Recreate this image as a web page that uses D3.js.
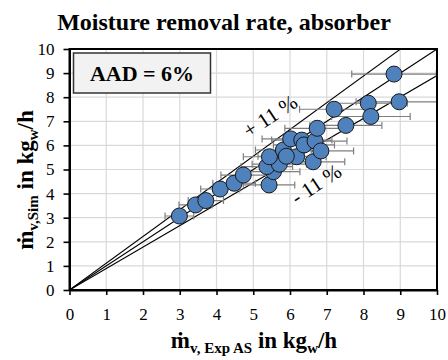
<!DOCTYPE html>
<html><head><meta charset="utf-8">
<script src="https://cdn.jsdelivr.net/npm/d3@7"></script>
<style>
body{margin:0;background:#fff}
svg{display:block}
text{font-family:"Liberation Serif","Times New Roman",serif}
</style></head>
<body><svg id="c" width="448" height="360"></svg>
<script>
// ---- data ----
const expValues = [2.99,3.43,3.71,4.10,4.48,4.73,5.43,5.55,5.37,5.71,5.44,5.82,6.02,6.18,6.32,6.38,6.68,6.63,6.84,6.74,7.20,7.52,8.13,8.20,8.83,8.97,5.90];
const simValues = [3.07,3.53,3.71,4.19,4.43,4.77,4.36,4.91,5.12,5.22,5.53,5.81,6.27,5.53,6.22,6.02,6.18,5.32,5.77,6.71,7.50,6.83,7.75,7.20,8.96,7.81,5.55];
const errValues = [0.39,0.45,0.48,0.53,0.58,0.61,0.70,0.72,0.70,0.74,0.71,0.76,0.78,0.80,0.82,0.83,0.87,0.86,0.89,0.88,0.94,0.98,1.06,1.07,1.15,1.17,0.77];
const xTickValues = [0,1,2,3,4,5,6,7,8,9,10];
const yTickValues = [0,1,2,3,4,5,6,7,8,9,10];
const refFactors = [1.11, 1.0, 0.89];
const titleText = "Moisture removal rate, absorber";
const aadText = "AAD = 6%";
const plusLabel = "+ 11 %";
const minusLabel = "- 11 %";

const svg = d3.select("#c");
const L = 69.5, R = 437, T = 49, B = 290;
const x = d3.scaleLinear().domain([0,10]).range([L,R]);
const y = d3.scaleLinear().domain([0,10]).range([B,T]);
const serif = '"Liberation Serif","Times New Roman",serif';

// title
svg.append("text").attr("x",224).attr("y",30).attr("text-anchor","middle")
  .attr("font-size",24).attr("font-weight","bold").text(titleText);

// grid
const g = svg.append("g");
g.selectAll(".gx").data(xTickValues.slice(1,-1)).join("line")
  .attr("x1",d=>x(d)).attr("x2",d=>x(d)).attr("y1",T).attr("y2",B)
  .attr("stroke","#d9d9d9").attr("stroke-width",1.2);
g.selectAll(".gy").data(yTickValues.slice(1,-1)).join("line")
  .attr("y1",d=>y(d)).attr("y2",d=>y(d)).attr("x1",L).attr("x2",R)
  .attr("stroke","#d9d9d9").attr("stroke-width",1.2);

// clip
svg.append("defs").append("clipPath").attr("id","pc").append("rect")
  .attr("x",L).attr("y",T).attr("width",R-L).attr("height",B-T);

// reference lines
const pg = svg.append("g").attr("clip-path","url(#pc)");
pg.selectAll(".ref").data(refFactors).join("line")
  .attr("x1",x(0)).attr("y1",y(0)).attr("x2",x(10)).attr("y2",d=>y(10*d))
  .attr("stroke","#000").attr("stroke-width",1.1);

// error bars
const pts = expValues.map((v,i)=>({x:v,y:simValues[i],e:errValues[i]}));
const eb = pg.append("g").attr("stroke","#7f7f7f").attr("stroke-width",1.2);
pts.forEach(p=>{
  eb.append("line").attr("x1",x(p.x-p.e)).attr("x2",x(p.x+p.e)).attr("y1",y(p.y)).attr("y2",y(p.y));
  [p.x-p.e,p.x+p.e].forEach(v=>{
    eb.append("line").attr("x1",x(v)).attr("x2",x(v)).attr("y1",y(p.y)-3.5).attr("y2",y(p.y)+3.5);
  });
});

// markers
pg.selectAll(".pt").data(pts).join("circle")
  .attr("cx",d=>x(d.x)).attr("cy",d=>y(d.y)).attr("r",8)
  .attr("fill","#4f81bd").attr("stroke","#1a1a1a").attr("stroke-width",1);

// labels along lines
const ang = -Math.atan(1.0*(B-T)/(R-L))*180/Math.PI;
svg.append("text").attr("transform",`translate(274,122) rotate(${ang})`)
  .attr("text-anchor","middle").attr("font-size",21).text(plusLabel);
svg.append("text").attr("transform",`translate(320,190) rotate(${ang})`)
  .attr("text-anchor","middle").attr("font-size",21).text(minusLabel);

// AAD box
svg.append("rect").attr("x",73.5).attr("y",53).attr("width",137).attr("height",40)
  .attr("fill","#f2f2f2").attr("stroke","#333").attr("stroke-width",1.5);
svg.append("text").attr("x",142).attr("y",81).attr("text-anchor","middle")
  .attr("font-size",22).attr("font-weight","bold").text(aadText);

// frame
svg.append("rect").attr("x",L).attr("y",T).attr("width",R-L).attr("height",B-T)
  .attr("fill","none").attr("stroke","#000").attr("stroke-width",2);

// axes
const xa = svg.append("g").attr("transform",`translate(0,${B})`)
  .call(d3.axisBottom(x).tickValues(xTickValues).tickSize(5).tickSizeOuter(0).tickFormat(d3.format("d")));
const ya = svg.append("g").attr("transform",`translate(${L},0)`)
  .call(d3.axisLeft(y).tickValues(yTickValues).tickSize(6).tickSizeOuter(0).tickFormat(d3.format("d")));
[xa,ya].forEach(a=>{
  a.attr("font-family",serif);
  a.select(".domain").attr("stroke","#000").attr("stroke-width",2);
  a.selectAll(".tick line").attr("stroke","#000").attr("stroke-width",1.6);
  a.selectAll(".tick text").style("font-family",serif).attr("font-size",17).attr("fill","#000");
});
xa.selectAll(".tick text").attr("dy","0").attr("y",30);
ya.selectAll(".tick text").attr("x",-15);

// x axis title
const xt = svg.append("text").attr("x",254).attr("y",348).attr("text-anchor","middle")
  .attr("font-weight","bold").attr("font-size",23);
xt.append("tspan").text("ṁ");
xt.append("tspan").attr("font-size",15).attr("dy",5).text("v, Exp AS");
xt.append("tspan").attr("dy",-5).text(" in kg");
xt.append("tspan").attr("font-size",15).attr("dy",5).text("w");
xt.append("tspan").attr("dy",-5).text("/h");

// y axis title
const yt = svg.append("text").attr("transform","translate(33,180) rotate(-90)").attr("text-anchor","middle")
  .attr("font-weight","bold").attr("font-size",23);
yt.append("tspan").text("ṁ");
yt.append("tspan").attr("font-size",15).attr("dy",5).text("v,Sim");
yt.append("tspan").attr("dy",-5).text(" in kg");
yt.append("tspan").attr("font-size",15).attr("dy",5).text("w");
yt.append("tspan").attr("dy",-5).text("/h");
</script></body></html>
